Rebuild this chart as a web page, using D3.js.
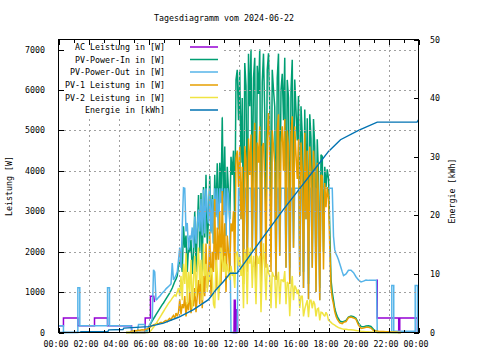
<!DOCTYPE html>
<html><head><meta charset="utf-8">
<script src="https://cdn.jsdelivr.net/npm/d3@7"></script>
<style>
body{margin:0;background:#fff}
svg{display:block}
text{font-family:"DejaVu Sans Mono",monospace;font-size:8.3px;fill:#000}
</style>
</head><body><svg id="c" width="480" height="360"></svg>
<script>
// ---------------- data ----------------
const title = "Tagesdiagramm vom 2024-06-22";
const seriesNames = ["AC Leistung in [W]", "PV-Power-In in [W]", "PV-Power-Out in [W]", "PV-1 Leistung in [W]", "PV-2 Leistung in [W]", "Energie in [kWh]"];
const seriesColors = ["#9400d3", "#009e73", "#56b4e9", "#e69f00", "#f0e442", "#0072b2"];
const xTickHours = [0,2,4,6,8,10,12,14,16,18,20,22,24];
const xTickLabels = ["00:00","02:00","04:00","06:00","08:00","10:00","12:00","14:00","16:00","18:00","20:00","22:00","00:00"];
const yLeftTicks = [0,1000,2000,3000,4000,5000,6000,7000];
const yRightTicks = [0,10,20,30,40,50];
const yLeftLabel = "Leistung [W]";
const yRightLabel = "Energie [kWh]";

// day samples: every 5 minutes from 04:30 to 19:00
const dayStartHour = 4.5, dayStepMin = 5;

const pvInDay = [
 0,0,0,0,0,0, 0,0,0,0,0,0, 0,0,0,0,30,60,
 110,170,230,290,340,390,440,490,540,590,640,690,730,780,830,880,930,980,1040,1100,1180,1260,1320,1400,
 1650,1750,1850,1500,2630,2100,2400,1500,2100,2000,2300,1450,
 2000,3000,1500,2550,3400,2000,3450,1500,3600,2350,3900,2200,
 2800,3870,2500,3400,2200,3900,2900,4190,2600,4200,3300,5340,
 3000,4600,2400,4100,3500,2800,4350,3900,4500,2600,6250,6500,
 5250,6500,4200,5800,1800,6670,6100,2200,6900,5600,7000,3100,
 6300,6800,2000,6600,5900,7000,1700,6200,6900,5400,2400,6500,
 6910,5600,2100,6500,6000,5580,1900,6300,6900,2600,6000,6400,
 5250,6800,2300,6250,5800,1600,6000,6750,2900,6260,5500,4750,
 5850,2000,5600,4900,1500,5520,3500,5300,1200,5400,4800,2200,
 5280,4600,1400,4780,3900,1100,4400,4360,2000,4100,3600,4040,
 3800,2600,1310,1000,800,600,480,400,340,290,270,260,270
];
const pv1Day = [
 0,0,0,0,30,40, 40,50,40,50,60,50, 60,70,60,70,80,90,
 100,120,150,170,190,200,220,230,210,240,250,230,260,280,300,270,320,350,300,380,420,350,480,400,
 500,820,450,700,600,900,400,750,550,1000,480,800,
 650,1100,500,900,1300,700,1640,600,1400,900,2200,1100,
 1300,2500,900,2000,1500,3300,1100,2600,1800,3000,1200,3500,
 1500,2700,1000,2400,2000,1500,2700,2500,3000,1500,4320,4500,
 3600,4600,2800,4100,1200,4610,4300,1500,4800,3900,4900,2000,
 4400,5190,1300,4700,4200,5100,1200,4600,4690,3800,1600,4800,
 5430,4200,1500,5000,4600,4200,1300,5000,5400,1900,4700,5100,
 4000,5280,1600,5000,4600,1200,4900,5350,2100,5100,4400,3800,
 4780,1400,4700,4000,1100,4940,2800,4500,820,4600,4000,1600,
 4500,3900,1000,4200,3300,800,3900,3870,1560,3700,3100,3600,
 3300,2100,1100,850,700,520,400,330,280,240,230,220,250
];
const pv2Day = [
 0,0,0,0,0,0, 0,0,0,0,0,0, 0,0,0,0,0,0,
 0,20,50,90,130,170,220,270,320,370,420,470,520,570,620,670,720,760,800,850,890,930,900,1000,
 1100,900,1400,800,1700,1200,1960,700,1500,1000,1800,600,
 1300,1900,900,1600,2100,1200,1800,800,2200,1400,1700,1000,
 1500,1300,1600,1400,700,600,1800,1500,800,1200,2100,1800,
 1500,1900,1400,1700,1500,1300,1650,1400,1500,1100,1930,2000,
 1650,1900,1400,1700,600,2060,1800,700,2100,1700,2100,1100,
 1900,1610,700,1900,1700,1900,500,1600,2210,1600,800,1700,
 1480,1400,600,1500,1400,1380,600,1300,1500,700,1300,1300,
 1250,1520,700,1250,1200,400,1100,1400,800,1160,1100,950,
 1070,600,900,900,400,580,700,800,380,800,800,600,
 780,700,400,580,600,300,500,490,440,400,500,440,
 300,280,250,220,200,180,160,140,120,110,100,90,80
];
const pvOutDay = [
 170,170,170,170,170,0, 0,0,0,0,200,200, 200,200,200,200,0,0,
 150,200,260,330,1550,1500,800,830,870,900,940,980,1010,1040,1080,1110,1140,1170,1200,1720,1300,1350,1420,1500,
 1800,2100,1600,2630,3580,3570,2500,2710,2050,2400,2300,2600,
 2100,2870,2200,2600,3040,2500,3300,2400,3540,2450,3570,3000,
 2700,3570,2450,3300,2200,3570,2850,3570,2550,3570,3200,3570,
 2900,3570,2380,3570,3400,2710,0,0,0,0,0,0,
 3570,3570,2800,3570,1200,3570,3570,1500,3570,3570,3570,2000,
 3570,3570,1300,3570,3570,3570,1200,3570,3570,3570,3570,3570,
 3570,3570,3570,3570,3570,3570,1300,3570,3570,1900,3570,3570,
 3570,3570,1600,3570,3570,1200,3570,3570,2100,3570,3570,3570,
 3570,1400,3570,3570,1100,3570,2800,3570,820,3570,3570,1600,
 3570,3570,1000,3570,3300,800,3570,3570,3570,3570,3570,3570,
 3570,3570,3570,3570,2380,2050,1950,1880,1800,1700,1600,1500,1410
];

// evening samples (hours) for PV-In / PV-1 / PV-2
const eveHours = [19.17,19.33,19.5,19.67,19.83,20,20.17,20.33,20.5,20.67,20.83,21,21.17,21.33,21.5,21.67,21.83,22,22.17,22.33,22.5,22.67,22.83];
const pvInEve = [300,380,410,390,350,230,150,140,160,165,150,80,30,20,15,10,10,10,5,0,0,0,0];
const pv1Eve  = [270,370,380,360,330,180,100,110,130,130,110,50,40,30,25,25,20,20,15,15,10,0,0];
const pv2Eve  = [80,70,70,60,50,40,30,25,20,20,15,10,5,0,0,0,0,0,0,0,0,0,0];

// PV-Power-Out at night (before 04:30 and after 19:00)
const outNightHours = [0,0.33,0.33,1.29,1.29,1.42,1.42,3.27,3.27,3.4,3.4];
const outNightValues = [170,170,0,0,1110,1110,170,170,1110,1110,170];
const outEveHours = [19.17,19.33,19.5,19.67,19.83,20,20.17,20.33,20.5,20.67,20.83,21,21.2,21.25,22.22,22.22,22.35,22.35,23.78,23.78,23.93,23.93,24];
const outEveValues = [1450,1540,1540,1480,1380,1300,1250,1270,1300,1290,1290,1290,1290,0,0,1160,1160,30,30,1160,1160,0,0];

// AC Leistung (null = no visible line)
const acHours  = [0,0.33,0.33,1.29,1.29,2.4,2.4,3.27,3.27,4.87,4.87,5.78,5.78,6.13,6.13,6.35,6.4,6.5, 11.6,11.7,11.72,11.78,11.8,11.86,11.88,11.93,11.95,12.0, 21.2,21.25,21.25,22.68,22.68,22.75,22.75,23.93,23.93,24];
const acValues = [170,170,360,360,170,170,360,360,170,170,0,0,360,360,900,900,750,null, 0,0,800,800,0,0,560,560,0,null, 1290,1290,360,360,0,0,360,360,0,0];

// Energie [kWh]
const energyHours  = [0,1.45,1.5,3.3,3.35,4.3,4.35,6,7,8,9,10,10.5,11,11.45,11.9,13,14,15,16,17,18,18.8,20,21.25,23.9,24];
const energyValues = [0,0.05,0.12,0.2,0.45,0.5,0.75,1.0,1.6,2.6,3.9,5.6,7.3,8.7,10.1,10.1,14.0,17.5,21.0,24.3,27.6,30.9,32.9,34.5,35.9,35.9,36.3];

// ---------------- build ----------------
const dayHours = pvInDay.map((_, i) => dayStartHour + i * dayStepMin / 60);
const zip = (hs, vs) => hs.map((t, i) => ({t, v: vs[i]}));

const series = [
  zip(acHours, acValues),
  zip(dayHours, pvInDay).concat(zip(eveHours, pvInEve)),
  zip(outNightHours, outNightValues).concat(zip(dayHours, pvOutDay), zip(outEveHours, outEveValues)),
  zip(dayHours, pv1Day).concat(zip(eveHours, pv1Eve)),
  zip(dayHours, pv2Day).concat(zip(eveHours, pv2Eve)),
  zip(energyHours, energyValues)
];

const L = 58.5, R = 418.5, T = 39.5, B = 332.5;
const x = d3.scaleLinear().domain([0, 24]).range([L, R]);
const y = d3.scaleLinear().domain([0, 7250]).range([B, T]);
const y2 = d3.scaleLinear().domain([0, 50]).range([B, T]);

const svg = d3.select("#c");
svg.append("rect").attr("width",480).attr("height",360).attr("fill","#fff");

const plot = svg.append("g");
series.forEach((s, k) => {
  const ys = k === 5 ? y2 : y;
  const line = d3.line().defined(d => d.v != null).x(d => x(d.t)).y(d => ys(d.v));
  plot.append("path").datum(s).attr("d", line)
    .attr("fill","none").attr("stroke", seriesColors[k])
    .attr("stroke-width", k === 5 ? 1.4 : 1.5).attr("stroke-linejoin","miter").attr("stroke-miterlimit", 2);
});

// grid (front)
const grid = svg.append("g").attr("stroke","#a0a0a0").attr("stroke-width",1).attr("stroke-dasharray","2,3").attr("shape-rendering","crispEdges");
xTickHours.filter(h => h > 0 && h < 24).forEach(h => {
  grid.append("line").attr("x1", Math.round(x(h))+0.5).attr("x2", Math.round(x(h))+0.5).attr("y1", T).attr("y2", B);
});
yLeftTicks.filter(v => v > 0).forEach(v => {
  grid.append("line").attr("x1", L).attr("x2", R).attr("y1", Math.round(y(v))+0.5).attr("y2", Math.round(y(v))+0.5);
});

// opaque key background
svg.append("rect").attr("x", L+0.5).attr("y", T+0.5).attr("width", 222-L).attr("height", 117-T).attr("fill","#fff");

// border and ticks
const ax = svg.append("g").attr("stroke","#000").attr("stroke-width",1).attr("shape-rendering","crispEdges");
ax.append("rect").attr("x",L).attr("y",T).attr("width",R-L).attr("height",B-T).attr("fill","none");
d3.range(0, 25).forEach(h => {
  const len = h % 2 === 0 ? 5 : 3;
  const px = Math.round(x(h)) + 0.5;
  ax.append("line").attr("x1",px).attr("x2",px).attr("y1",B).attr("y2",B-len);
  ax.append("line").attr("x1",px).attr("x2",px).attr("y1",T).attr("y2",T+len);
});
yLeftTicks.forEach(v => {
  const py = Math.round(y(v)) + 0.5;
  ax.append("line").attr("x1",L).attr("x2",L+5).attr("y1",py).attr("y2",py);
});
yRightTicks.forEach(v => {
  const py = Math.round(y2(v)) + 0.5;
  ax.append("line").attr("x1",R).attr("x2",R-5).attr("y1",py).attr("y2",py);
});

// labels
const tx = svg.append("g");
tx.append("text").attr("x", 224).attr("y", 21).attr("text-anchor","middle").text(title);
yLeftTicks.forEach(v => tx.append("text").attr("x",45).attr("y",y(v)+3).attr("text-anchor","end").text(v));
yRightTicks.forEach(v => tx.append("text").attr("x",430).attr("y",y2(v)+3).text(v));
xTickHours.forEach((h, i) => tx.append("text").attr("x", x(h)-2.5).attr("y", 347).attr("text-anchor","middle").text(xTickLabels[i]));
tx.append("text").attr("transform","translate(12,186) rotate(-90)").attr("text-anchor","middle").text(yLeftLabel);
tx.append("text").attr("transform","translate(455,191) rotate(-90)").attr("text-anchor","middle").text(yRightLabel);

// legend
const legendRowY = [47, 59.5, 72, 85, 97.5, 110];
seriesNames.forEach((n, k) => {
  tx.append("text").attr("x",165).attr("y",legendRowY[k]+3).attr("text-anchor","end").text(n);
  svg.append("line").attr("x1",190).attr("x2",218).attr("y1",legendRowY[k]).attr("y2",legendRowY[k])
    .attr("stroke",seriesColors[k]).attr("stroke-width",1.5);
});
</script></body></html>
